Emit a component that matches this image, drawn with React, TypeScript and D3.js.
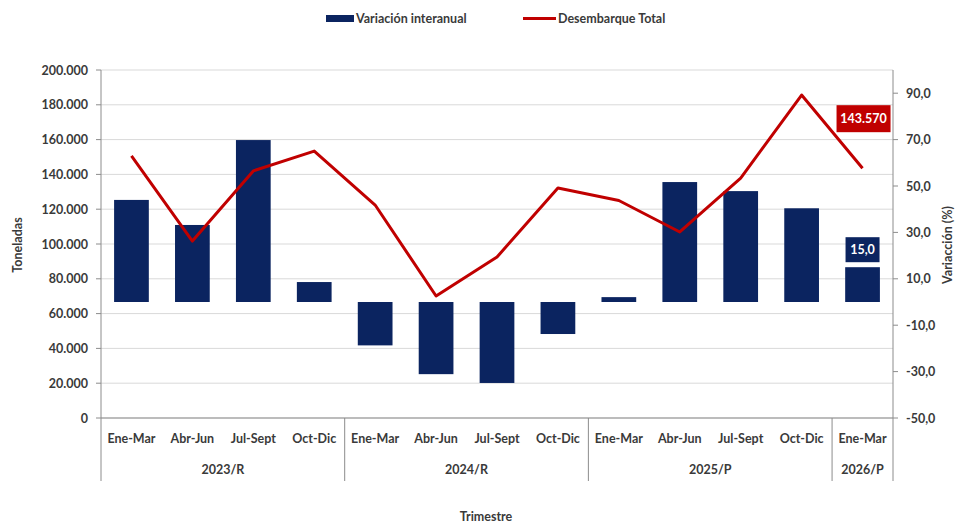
import React from "react";
import * as d3 from "d3";

const quarters = [
  "Ene-Mar", "Abr-Jun", "Jul-Sept", "Oct-Dic",
  "Ene-Mar", "Abr-Jun", "Jul-Sept", "Oct-Dic",
  "Ene-Mar", "Abr-Jun", "Jul-Sept", "Oct-Dic",
  "Ene-Mar"
];
const yearLabels = ["2023/R", "2024/R", "2025/P", "2026/P"];
const yearSpans = [4, 4, 4, 1];

// Desembarque Total (toneladas)
const desembarque = [
  150600, 101700, 142000, 153400,
  122400, 70100, 92500, 132200,
  125000, 106900, 137900, 185600,
  143570
];
// Variación interanual (%)
const variacion = [
  44.0, 33.2, 69.8, 8.6,
  -18.7, -31.1, -34.9, -13.8,
  2.1, 51.7, 47.8, 40.4,
  15.0
];
const leftTicks = [0, 20000, 40000, 60000, 80000, 100000, 120000, 140000, 160000, 180000, 200000];
const rightTicks = [-50, -30, -10, 10, 30, 50, 70, 90];

const NAVY = "#0b2460";
const RED = "#c00000";
const TXT = "#3a3a3a";
const FONT = "Lato, 'Open Sans', sans-serif";

const locale = d3.formatLocale({ decimal: ",", thousands: ".", grouping: [3], currency: ["", ""], minus: "-" });
const fmtT = locale.format(",");
const fmtP = locale.format(".1f");

const W = 958;
const H = 523;
const left = 101;
const right = 893;
const top = 70;
const bottom = 418;

export default function App() {
  const idx = quarters.map((_, i) => i);
  const x = d3.scaleBand<number>().domain(idx).range([left, right]).padding(0);
  const yL = d3.scaleLinear().domain([0, 200000]).range([bottom, top]);
  const yR = d3.scaleLinear().domain([-50, 100]).range([bottom, top]);
  const bw = x.bandwidth() * 0.57;
  const cx = (i: number) => (x(i) as number) + x.bandwidth() / 2;

  const line = d3
    .line<number>()
    .x((_, i) => cx(i))
    .y(d => yL(d));

  // group boundaries
  const bounds: number[] = [0];
  yearSpans.forEach(s => bounds.push(bounds[bounds.length - 1] + s));
  const bx = (k: number) => (k < quarters.length ? (x(k) as number) : right);

  const last = quarters.length - 1;

  return (
    <svg width={W} height={H} style={{ position: "absolute", left: 0, top: 0, background: "#fff" }} fontFamily={FONT}>
      {/* legend */}
      <rect x={326} y={15} width={28} height={7} fill={NAVY} />
      <text x={356} y={22.5} fontSize={12.5} fontWeight="bold" fill={TXT}>Variación interanual</text>
      <line x1={523} x2={556} y1={18.5} y2={18.5} stroke={RED} strokeWidth={3} />
      <text x={558} y={22.5} fontSize={12.5} fontWeight="bold" fill={TXT}>Desembarque Total</text>

      {/* gridlines */}
      {leftTicks.map(t => (
        <line key={"g" + t} x1={left} x2={right} y1={yL(t)} y2={yL(t)} stroke="#d9d9d9" strokeWidth={1} />
      ))}

      {/* bars */}
      {variacion.map((v, i) => (
        <rect
          key={"b" + i}
          x={cx(i) - bw / 2}
          y={Math.min(yR(v), yR(0))}
          width={bw}
          height={Math.abs(yR(v) - yR(0))}
          fill={NAVY}
        />
      ))}

      {/* line */}
      <path d={line(desembarque) || ""} fill="none" stroke={RED} strokeWidth={3} strokeLinejoin="round" />

      {/* axes */}
      <line x1={left} x2={left} y1={top} y2={bottom} stroke="#8c8c8c" />
      <line x1={right} x2={right} y1={top} y2={bottom} stroke="#8c8c8c" />
      <line x1={left} x2={right} y1={bottom} y2={bottom} stroke="#8c8c8c" />
      {leftTicks.map(t => (
        <g key={"l" + t}>
          <line x1={left - 5} x2={left} y1={yL(t)} y2={yL(t)} stroke="#8c8c8c" />
          <text x={left - 13} y={yL(t) + 4.5} textAnchor="end" fontSize={12.5} fontWeight="bold" fill={TXT}>
            {fmtT(t)}
          </text>
        </g>
      ))}
      {rightTicks.map(t => (
        <g key={"r" + t}>
          <line x1={right} x2={right + 5} y1={yR(t)} y2={yR(t)} stroke="#8c8c8c" />
          <text x={right + 13} y={yR(t) + 4.5} fontSize={12.5} fontWeight="bold" fill={TXT}>
            {fmtP(t)}
          </text>
        </g>
      ))}

      {/* category axis */}
      {bounds.map(k => (
        <line key={"s" + k} x1={bx(k)} x2={bx(k)} y1={bottom} y2={481} stroke="#8c8c8c" />
      ))}
      {quarters.map((q, i) => (
        <text key={"q" + i} x={cx(i)} y={443} textAnchor="middle" fontSize={12.5} fontWeight="bold" fill={TXT}>
          {q}
        </text>
      ))}
      {yearLabels.map((y, k) => (
        <text
          key={"y" + k}
          x={(bx(bounds[k]) + bx(bounds[k + 1])) / 2}
          y={474}
          textAnchor="middle"
          fontSize={12.5}
          fontWeight="bold"
          fill={TXT}
        >
          {y}
        </text>
      ))}

      {/* axis titles */}
      <text x={W / 2 + 7} y={521} textAnchor="middle" fontSize={12.5} fontWeight="bold" fill={TXT}>Trimestre</text>
      <text transform="translate(22,245) rotate(-90)" textAnchor="middle" fontSize={12.5} fontWeight="bold" fill={TXT}>Toneladas</text>
      <text transform="translate(952,245) rotate(-90)" textAnchor="middle" fontSize={12.5} fontWeight="bold" fill={TXT}>Variacción (%)</text>

      {/* data labels */}
      <rect x={cx(last) - 26} y={yL(desembarque[last]) - 63} width={54} height={27} fill={RED} />
      <text x={cx(last) + 1} y={yL(desembarque[last]) - 45} textAnchor="middle" fontSize={12.5} fontWeight="bold" fill="#fff">
        {fmtT(desembarque[last])}
      </text>
      <rect x={cx(last) - 17} y={yR(variacion[last]) - 30} width={34} height={25} fill={NAVY} />
      <text x={cx(last)} y={yR(variacion[last]) - 13} textAnchor="middle" fontSize={12.5} fontWeight="bold" fill="#fff">
        {fmtP(variacion[last])}
      </text>
    </svg>
  );
}
